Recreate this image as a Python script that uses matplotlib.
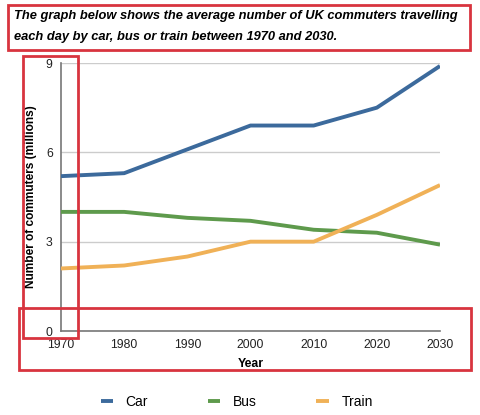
import matplotlib.pyplot as plt
from matplotlib.patches import Rectangle

years = [1970, 1980, 1990, 2000, 2010, 2020, 2030]
car = [5.2, 5.3, 6.1, 6.9, 6.9, 7.5, 8.9]
bus = [4.0, 4.0, 3.8, 3.7, 3.4, 3.3, 2.9]
train = [2.1, 2.2, 2.5, 3.0, 3.0, 3.9, 4.9]
yticks = [0, 3, 6, 9]

COLORS = {"Car": "#3c6a9c", "Bus": "#5e9a4c", "Train": "#f0b157"}
RED = "#d8343f"

plt.rcParams["font.family"] = ["Liberation Sans", "DejaVu Sans"]

fig = plt.figure(figsize=(4.81, 4.15), dpi=100)
ax = fig.add_axes([61 / 481, 1 - 331 / 415, 379 / 481, 268 / 415])

for name, vals in (("Car", car), ("Bus", bus), ("Train", train)):
    ax.plot(years, vals, color=COLORS[name], lw=2.8, label=name,
            solid_capstyle="butt", zorder=3)

ax.set_xlim(1970, 2030)
ax.set_ylim(0, 9)
ax.set_xticks(years)
ax.set_yticks(yticks)
ax.tick_params(length=0, labelsize=8.8, colors="#222222", pad=6)
ax.yaxis.grid(True, color="#cccccc", lw=1.0)
ax.set_axisbelow(True)
for s in ("top", "right"):
    ax.spines[s].set_visible(False)
for s in ("left", "bottom"):
    ax.spines[s].set_color("#777777")
    ax.spines[s].set_linewidth(1.2)
ax.set_xlabel("Year", fontsize=8.8, fontweight="bold", labelpad=5)
ax.set_ylabel("Number of commuters (millions)", fontsize=8.6,
              fontweight="bold", labelpad=6)

fig.legend(handles=ax.get_lines(), loc="center", bbox_to_anchor=(0.492, 1 - 402 / 415),
           ncol=3, frameon=False, fontsize=10, handlelength=0.9,
           columnspacing=4.3, handletextpad=0.9)

fig.text(14 / 481, 1 - 16 / 415,
         "The graph below shows the average number of UK commuters travelling",
         fontsize=9.3, fontweight="bold", style="italic", va="center")
fig.text(14 / 481, 1 - 37 / 415,
         "each day by car, bus or train between 1970 and 2030.",
         fontsize=9.3, fontweight="bold", style="italic", va="center")

# red highlight boxes
for x0, y0, x1, y1 in ((8, 5, 470, 50), (23, 56, 78, 338), (19, 308, 471, 370)):
    fig.add_artist(Rectangle((x0 / 481, 1 - y1 / 415), (x1 - x0) / 481,
                             (y1 - y0) / 415, transform=fig.transFigure,
                             fill=False, edgecolor=RED, lw=2.0, zorder=10))

fig.savefig("out.png", dpi=100)
